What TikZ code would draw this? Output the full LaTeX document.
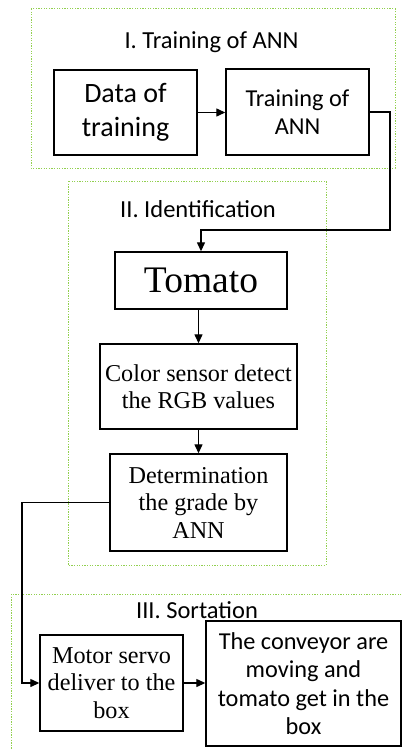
\documentclass[tikz,border=0pt]{standalone}
\usepackage{fontspec}
\setmainfont{Liberation Serif}
\newfontfamily\calibrifont{Carlito}
\usetikzlibrary{arrows.meta}
\definecolor{grpgreen}{RGB}{146,208,80}
\tikzset{
  stepbox/.style={draw=black, line width=1.4pt, rectangle, inner sep=0pt, align=center},
  sanstext/.style={font=\calibrifont\fontsize{24.3}{28.5}\selectfont},
  seriftext/.style={font=\fontsize{24.2}{27.5}\selectfont},
  group/.style={draw=grpgreen, line width=1pt, dash pattern=on 1.3pt off 1.3pt},
  grouptitle/.style={font=\calibrifont\fontsize{24.5}{28}\selectfont, anchor=base, inner sep=0pt},
  arr/.style={line width=1.3pt, -{Triangle[length=9pt,width=8pt]}},
}
\begin{document}
\begin{tikzpicture}[x=1pt, y=-1pt]
\useasboundingbox (0,0) rectangle (402,749);
\clip (0,0) rectangle (402,749);
\fill[white] (0,0) rectangle (402,749);

% stage frames
\draw[group] (31,9) rectangle (395,168);
\draw[group] (68,181) rectangle (326,565);
\draw[group] (11,594) rectangle (412,760);

\node[grouptitle] (t1) at (211.5,48.3) {I. Training of ANN};
\node[grouptitle] (t2) at (198,217) {II. Identification};
\node[grouptitle] (t3) at (197,618) {III. Sortation};

% stage I
\node[stepbox, minimum width=143pt, minimum height=85pt,
      font=\calibrifont\fontsize{28}{34}\selectfont] (data) at (125.5,112.5) {Data of\\training};
\node[stepbox, sanstext, minimum width=143pt, minimum height=86pt] (train) at (297.5,112) {Training of\\ANN};

% stage II
\node[stepbox, minimum width=172pt, minimum height=57pt,
      font=\fontsize{37.5}{40}\selectfont] (tomato) at (201,280.5) {Tomato};
\node[stepbox, seriftext, minimum width=197pt, minimum height=85pt] (color) at (198.5,386.5) {Color sensor detect\\the RGB values};
\node[stepbox, seriftext, minimum width=177pt, minimum height=97pt] (determ) at (198.5,502.5) {Determination\\the grade by\\ANN};

% stage III
\node[stepbox, seriftext, minimum width=143pt, minimum height=96pt] (motor) at (111.5,683) {Motor servo\\deliver to the\\box};
\node[stepbox, sanstext, minimum width=195pt, minimum height=125pt] (conv) at (303.5,683.5) {The conveyor are\\moving and\\tomato get in the\\box};

% connectors
\coordinate (c1) at (390,230);
\coordinate (c2) at (22,502.5);
\draw[arr] (data.east) -- (train.west |- data.east);
\draw[arr] (train.east) -| (c1) -| (tomato.north);
\draw[arr] (tomato.south -| color.north) -- (color.north);
\draw[arr] (color.south) -- (determ.north);
\draw[arr] (determ.west) -- (c2) |- (motor.west);
\draw[arr] (motor.east) -- (conv.west |- motor.east);
\end{tikzpicture}
\end{document}
